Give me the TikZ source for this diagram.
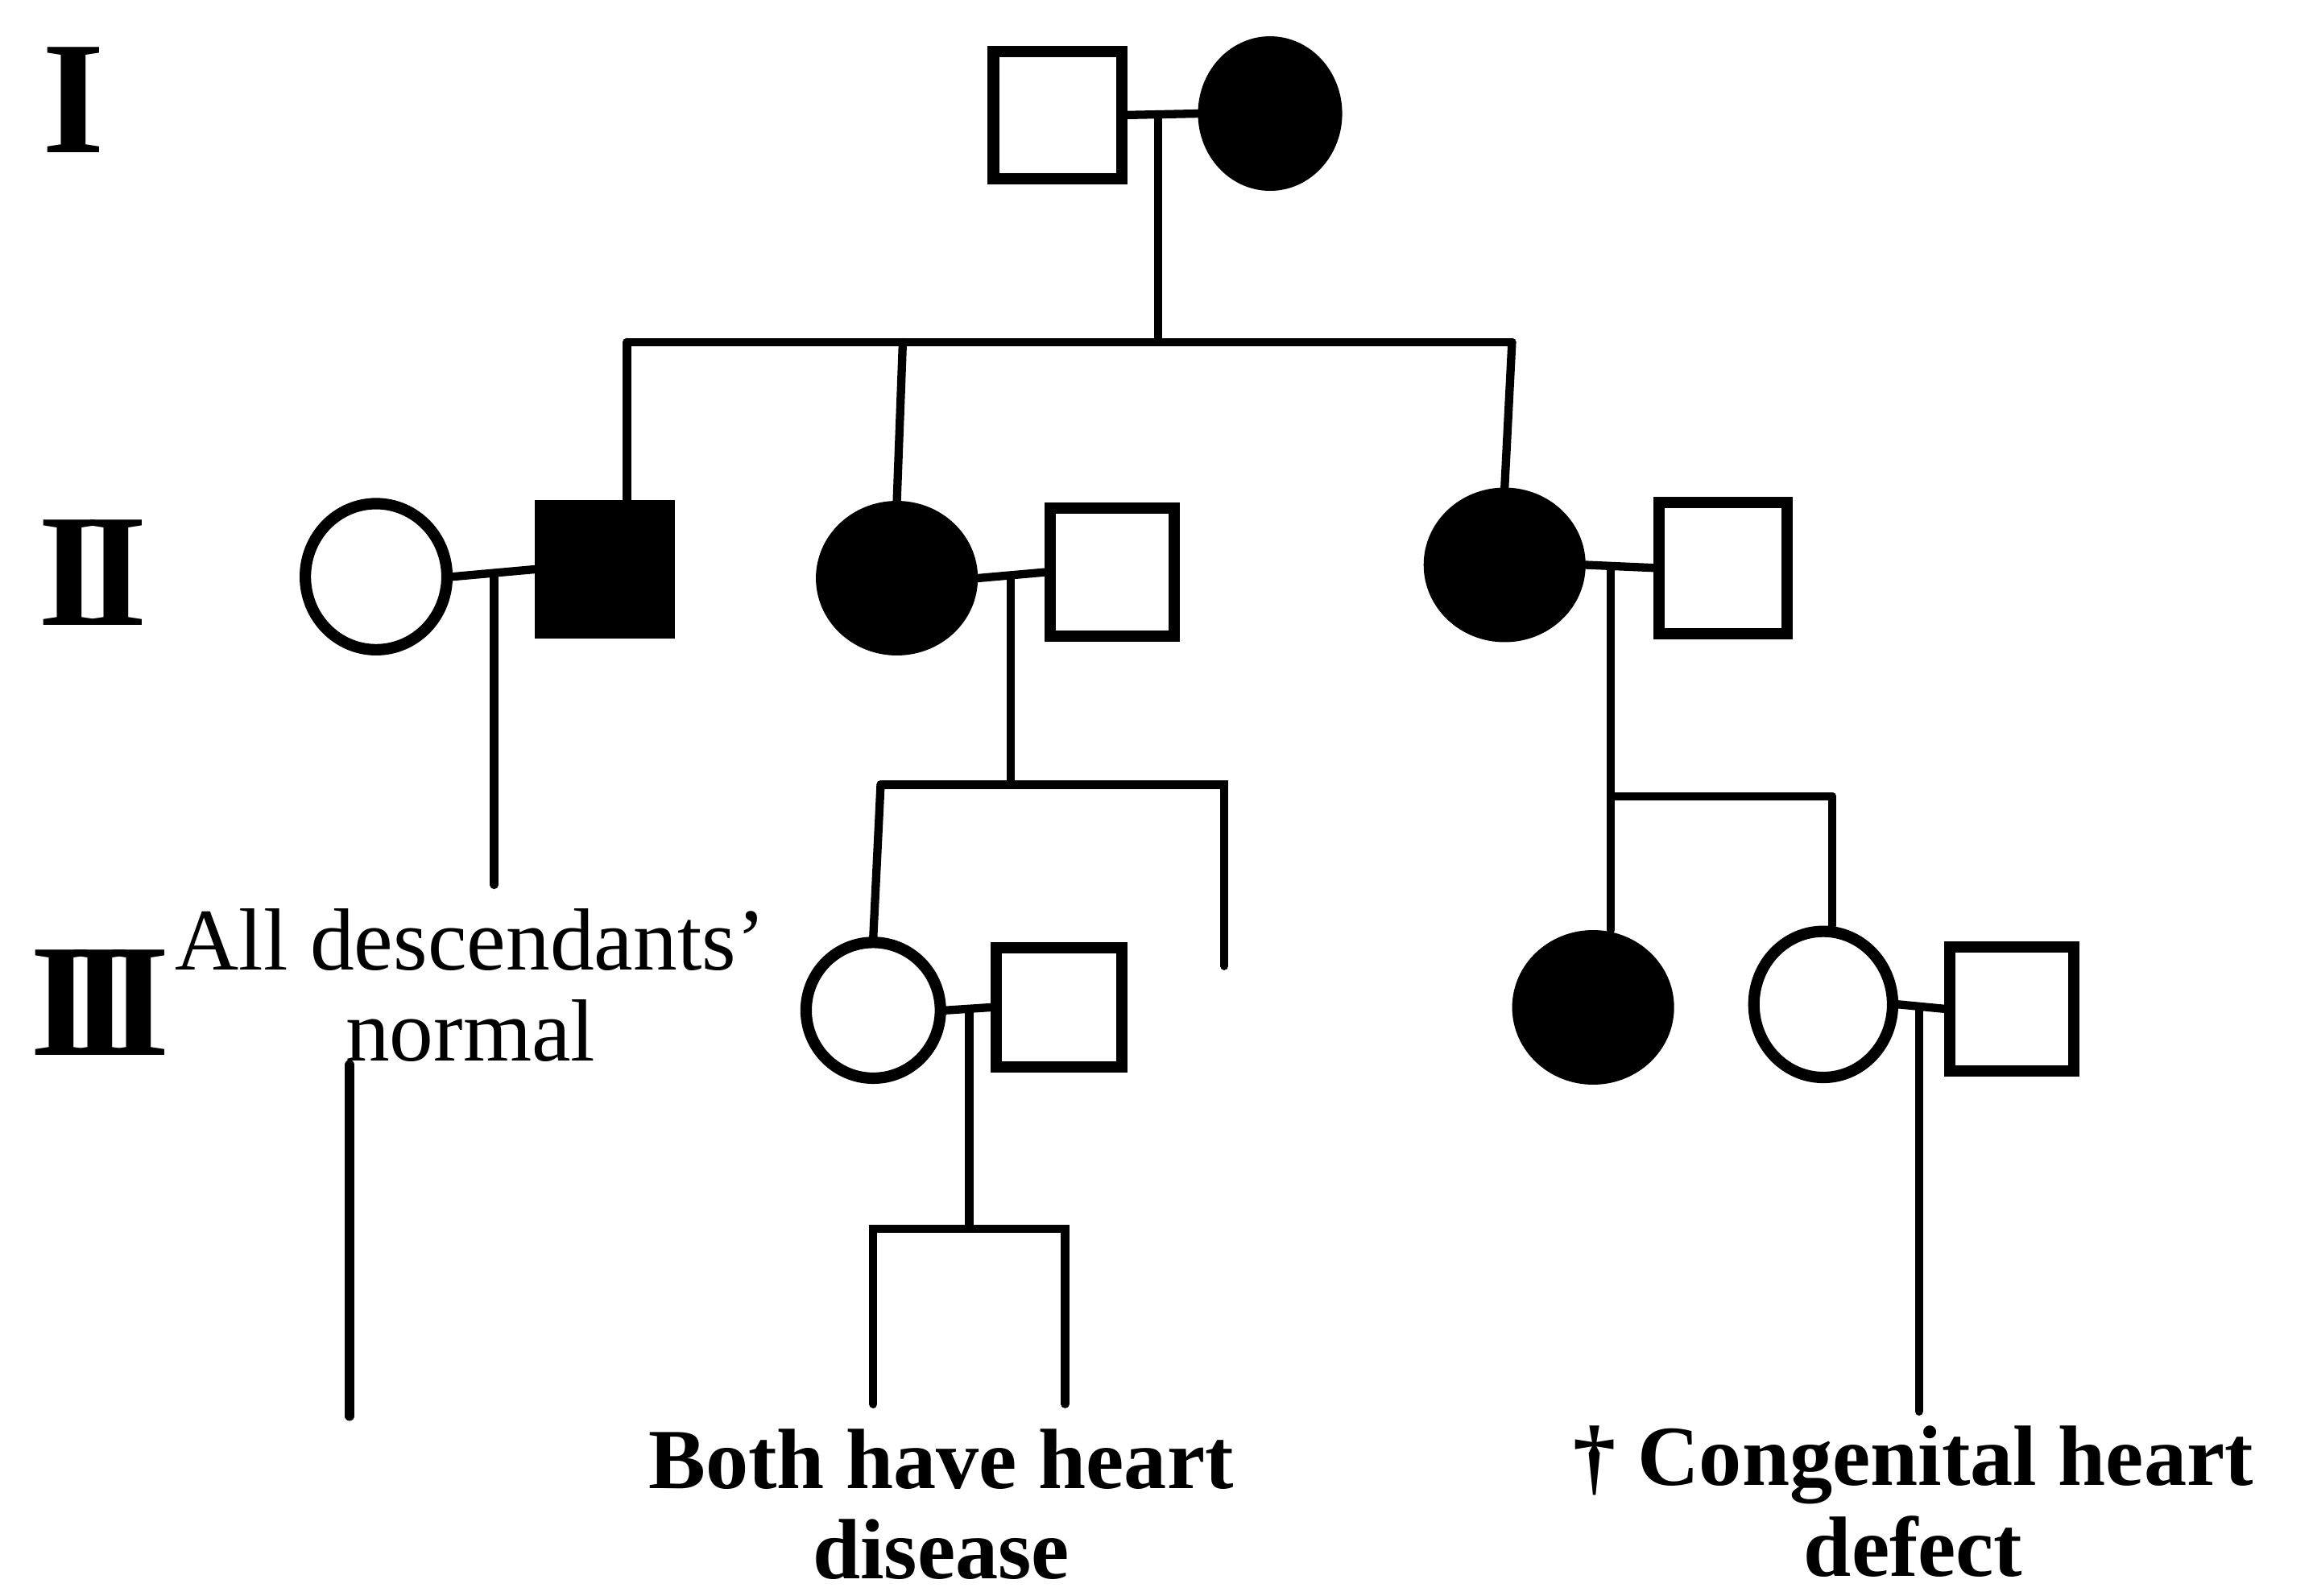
\documentclass[tikz,border=0pt]{standalone}
\usepackage{fontspec}
\setmainfont{Liberation Serif}
\usetikzlibrary{shapes.geometric}
\begin{document}
\begin{tikzpicture}[x=0.01cm,y=-0.01cm,
  conn/.style={line width=1.6pt, line cap=round},
  sym/.style={draw=black, line width=2.2pt, inner sep=0pt},
  sqr/.style={sym, rectangle, minimum width=0.87cm, minimum height=0.86cm},
  fem/.style={sym, ellipse, minimum width=0.98cm, minimum height=0.98cm},
  aff/.style={fill=black},
  gen/.style={font=\fontsize{31}{31}\selectfont\bfseries, inner sep=0pt},
  lab/.style={align=center, inner sep=0pt, font=\fontsize{17}{17.5}\selectfont},
  labb/.style={lab, font=\fontsize{16.5}{17.5}\selectfont\bfseries}]
\useasboundingbox (0,0) rectangle (1568,1082);

% generation labels
\node[gen] (gI) at (50,68) {I};
\node[gen] (gII) at (63,388) {I\kern-0.1em I};
\node[gen] (gIII) at (68,680) {I\kern-0.15em I\kern-0.15em I};

% generation I
\node[sqr] (i1) at (717,78) {};
\node[fem, aff, minimum width=0.9cm, minimum height=0.97cm] (i2) at (861,77) {};

% generation II
\node[fem, minimum width=0.96cm, minimum height=0.99cm] (ii1) at (255,391) {};
\node[sqr, aff] (ii2) at (410,386) {};
\node[fem, aff, minimum width=1.02cm, minimum height=0.97cm] (ii3) at (608,392) {};
\node[sqr, minimum width=0.84cm, minimum height=0.87cm] (ii4) at (754,388) {};
\node[fem, aff, minimum width=1.02cm, minimum height=0.97cm] (ii5) at (1020,383) {};
\node[sqr, minimum height=0.89cm] (ii6) at (1168,385) {};

% generation III
\node[fem, minimum width=0.91cm, minimum height=0.92cm] (iii1) at (592,685) {};
\node[sqr, minimum width=0.85cm, minimum height=0.81cm] (iii2) at (718,683) {};
\node[fem, aff, minimum width=1.02cm, minimum height=0.97cm] (iii3) at (1080,683) {};
\node[fem, minimum width=0.94cm, minimum height=0.99cm] (iii4) at (1236,681) {};
\node[sqr, minimum width=0.84cm, minimum height=0.84cm] (iii5) at (1364,684) {};

% text labels
\node[lab] (t1) at (319,668) {All descendants'\\normal};
\node[labb] (t2) at (638,1020) {Both have heart\\disease};
\node[labb] (t3) at (1297,1018) {† Congenital heart\\defect};

% coordinates
\coordinate (m1) at (785,79);
\coordinate (s1) at (785,232);
\coordinate (s1a) at (425,232);
\coordinate (s1b) at (612,232);
\coordinate (s1c) at (1025,232);

\coordinate (m2) at (335,390);
\coordinate (e2) at (335,600);

\coordinate (m3) at (685,392);
\coordinate (s3) at (685,532);
\coordinate (s3a) at (597,532);
\coordinate (s3b) at (830,532);
\coordinate (e3b) at (830,655);

\coordinate (m4) at (1092,385);
\coordinate (s4) at (1092,540);
\coordinate (s4b) at (1242,540);

\coordinate (m5) at (657,685);
\coordinate (s5) at (657,833);
\coordinate (s5a) at (592,833);
\coordinate (s5b) at (722,833);
\coordinate (e5a) at (592,952);
\coordinate (e5b) at (722,952);

\coordinate (m6) at (1301,685);
\coordinate (e6) at (1301,957);

\coordinate (d1) at (237,722);
\coordinate (d2) at (237,960);

% generation I connectors
\draw[conn] (i1.east) -- (i2.west);
\draw[conn] (m1) -- (s1);
\draw[conn] (s1a) -- (s1c);
\draw[conn] (s1a) -- (s1a |- ii2.north);
\draw[conn] (s1b) -- (ii3.north);
\draw[conn] (s1c) -- (ii5.north);

% generation II connectors
\draw[conn] (ii1.east) -- (ii2.west);
\draw[conn] (m2) -- (e2);
\draw[conn] (ii3.east) -- (ii4.west);
\draw[conn] (m3) -- (s3);
\draw[conn] (s3a) -- (s3b) -- (e3b);
\draw[conn] (s3a) -- (iii1.north);
\draw[conn] (ii5.east) -- (ii6.west);
\draw[conn] (m4) -- (s4) -- (s4b);
\draw[conn] (s4) -- (s4 |- iii3.north);
\draw[conn] (s4b) -- (s4b |- iii4.north);

% generation III connectors
\draw[conn] (iii1.east) -- (iii2.west);
\draw[conn] (m5) -- (s5);
\draw[conn] (e5a) -- (s5a) -- (s5b) -- (e5b);
\draw[conn] (iii4.east) -- (iii5.west);
\draw[conn] (m6) -- (e6);
\draw[conn, line width=1.9pt] (d1) -- (d2);
\end{tikzpicture}
\end{document}
